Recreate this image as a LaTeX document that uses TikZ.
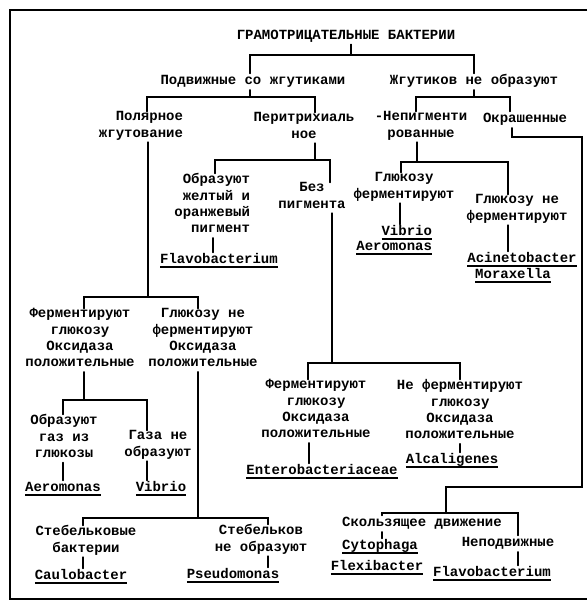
\documentclass[tikz,border=0pt]{standalone}
\usepackage{fontspec}
\setmainfont{Liberation Mono}
\newfontfamily\tw{Liberation Mono}
\begin{document}
\begin{tikzpicture}[x=1pt,y=-1pt,
  txt/.style={inner sep=0pt, outer sep=0pt, font=\tw\bfseries\fontsize{14}{16.4}\selectfont,
    align=center, anchor=north, execute at begin node=\strut, execute at end node=\strut},
  rtxt/.style={txt, align=right, anchor=north east},
  ln/.style={line width=1.4pt, line cap=round},
  ul/.style={line width=1.3pt},
  frame/.style={line width=2.4pt}]
\useasboundingbox (0,0) rectangle (587,601);
% frame
\draw[frame] (587,10) -- (10,10) -- (10,599) -- (587,599);

% ---------- nodes ----------
\node[txt] (title) at (346,28) {ГРАМОТРИЦАТЕЛЬНЫЕ БАКТЕРИИ};
\node[txt] (motile) at (253,73.5) {Подвижные со жгутиками};
\node[txt] (nonmotile) at (474,73.5) {Жгутиков не образуют};
\node[rtxt] (polar) at (183,111.5) {Полярное\\жгутование};
\node[txt] (perit) at (304,112.5) {Перитрихиаль\\ное};
\node[txt] (nonpig) at (421,111.5) {-Непигменти\\рованные};
\node[txt] (colored) at (525,111.5) {Окрашенные};
\node[rtxt] (yellow) at (250,173.5) {Образуют\\желтый и\\оранжевый\\пигмент};
\node[txt] (nopig) at (312,182.5) {Без\\пигмента};
\node[txt] (flavoA) at (219,252.5) {Flavobacterium};
\node[txt] (glufer) at (404,172.5) {Глюкозу\\ферментируют};
\node[txt] (glunofer) at (517,194.5) {Глюкозу не\\ферментируют};
\node[rtxt] (vibA) at (432,224.5) {Vibrio};
\node[rtxt] (aerA) at (432,239.5) {Aeromonas};
\node[txt] (aci) at (522,251.5) {Acinetobacter};
\node[txt] (mor) at (513,267.5) {Moraxella};
\node[txt] (fermA) at (80,308.5) {Ферментируют\\глюкозу\\Оксидаза\\положительные};
\node[txt] (nofermA) at (203,308.5) {Глюкозу не\\ферментируют\\Оксидаза\\положительные};
\node[txt] (gas) at (64,414.5) {Образуют\\газ из\\глюкозы};
\node[txt] (nogas) at (158,430.5) {Газа не\\образуют};
\node[txt] (aerB) at (63,480.5) {Aeromonas};
\node[txt] (vibB) at (161,480.5) {Vibrio};
\node[txt] (stalk) at (86,525.5) {Стебельковые\\бактерии};
\node[txt] (nostalk) at (261,524.5) {Стебельков\\не образуют};
\node[txt] (caulo) at (81,568.5) {Caulobacter};
\node[txt] (pseudo) at (233,567.5) {Pseudomonas};
\node[txt] (fermB) at (316,379.5) {Ферментируют\\глюкозу\\Оксидаза\\положительные};
\node[txt] (nofermB) at (460,379.5) {Не ферментируют\\глюкозу\\Оксидаза\\положительные};
\node[txt] (entero) at (322,463.5) {Enterobacteriaceae};
\node[txt] (alc) at (452,452.5) {Alcaligenes};
\node[txt] (glide) at (422,515.5) {Скользящее движение};
\node[txt] (cyto) at (380,538.5) {Cytophaga};
\node[txt] (flexi) at (377,559.5) {Flexibacter};
\node[txt] (immot) at (508,535.5) {Неподвижные};
\node[txt] (flavoB) at (492,565.5) {Flavobacterium};

% ---------- underlines ----------
\foreach \n in {flavoA,vibA,aerA,aci,mor,aerB,vibB,caulo,pseudo,entero,alc,cyto,flexi,flavoB}
  \draw[ul] ([yshift=-3pt]\n.base west) -- ([yshift=-3pt]\n.base east);

% ---------- connectors ----------
\coordinate (j0) at (351,55);  \coordinate (j0l) at (250,55);  \coordinate (j0r) at (474,55);
\draw[ln] (title.south -| j0) -- (j0);
\draw[ln] (motile.north -| j0l) |- (j0r) -- (nonmotile.north -| j0r);

\coordinate (j1) at (250,97);  \coordinate (j1l) at (147,97);  \coordinate (j1r) at (315,97);
\draw[ln] (motile.south -| j1) -- (j1);
\draw[ln] (polar.north -| j1l) |- (j1r) -- (perit.north -| j1r);

\coordinate (j2) at (474,97);  \coordinate (j2l) at (416,97);  \coordinate (j2r) at (510,97);
\draw[ln] (nonmotile.south -| j2) -- (j2);
\draw[ln] (nonpig.north -| j2l) |- (j2r) -- (colored.north -| j2r);

\coordinate (j3) at (315,160); \coordinate (j3l) at (215,160); \coordinate (j3r) at (330,160);
\draw[ln] (perit.south -| j3) -- (j3);
\draw[ln] (yellow.north -| j3l) |- (j3r) -- (nopig.north -| j3r);

\coordinate (j4) at (417,162); \coordinate (j4l) at (401,162); \coordinate (j4r) at (508,162);
\draw[ln] (nonpig.south -| j4) -- (j4);
\draw[ln] (glufer.north -| j4l) |- (j4r) -- (glunofer.north -| j4r);

\coordinate (k1) at (213,0); \draw[ln] (yellow.south -| k1) -- (flavoA.north -| k1);
\coordinate (k2) at (400,0); \draw[ln] (glufer.south -| k2) -- (vibA.north -| k2);
\coordinate (k3) at (508,0); \draw[ln] (glunofer.south -| k3) -- (aci.north -| k3);

\coordinate (j5) at (148,297); \coordinate (j5l) at (84,297); \coordinate (j5r) at (198,297);
\draw[ln] (polar.south -| j5) -- (j5);
\draw[ln] (fermA.north -| j5l) |- (j5r) -- (nofermA.north -| j5r);

\coordinate (j6) at (332,363); \coordinate (j6l) at (308,363); \coordinate (j6r) at (460,363);
\draw[ln] (nopig.south -| j6) -- (j6);
\draw[ln] (fermB.north -| j6l) |- (j6r) -- (nofermB.north -| j6r);

\coordinate (j7) at (84,400); \coordinate (j7l) at (63,400); \coordinate (j7r) at (147,400);
\draw[ln] (fermA.south -| j7) -- (j7);
\draw[ln] (gas.north -| j7l) |- (j7r) -- (nogas.north -| j7r);

\coordinate (j8) at (198,518); \coordinate (j8l) at (83,518); \coordinate (j8r) at (268,518);
\draw[ln] (nofermA.south -| j8) -- (j8);
\draw[ln] (stalk.north -| j8l) |- (j8r) -- (nostalk.north -| j8r);

\coordinate (k4) at (63,0);  \draw[ln] (gas.south -| k4) -- (aerB.north -| k4);
\coordinate (k5) at (147,0); \draw[ln] (nogas.south -| k5) -- (vibB.north -| k5);
\coordinate (k6) at (83,0);  \draw[ln] (stalk.south -| k6) -- (caulo.north -| k6);
\coordinate (k7) at (268,0); \draw[ln] (nostalk.south -| k7) -- (pseudo.north -| k7);
\coordinate (k8) at (309,0); \draw[ln] (fermB.south -| k8) -- (entero.north -| k8);
\coordinate (k9) at (460,0); \draw[ln] (nofermB.south -| k9) -- (alc.north -| k9);

\coordinate (c1) at (512,137); \coordinate (c2) at (582,137);
\coordinate (c3) at (582,487); \coordinate (c4) at (446,487);
\coordinate (j9) at (446,513); \coordinate (j9l) at (382,513); \coordinate (j9r) at (518,513);
\draw[ln] (colored.south -| c1) -- (c1) -- (c2) -- (c3) -- (c4) -- (j9);
\draw[ln] (glide.north -| j9l) |- (j9r) -- (immot.north -| j9r);
\coordinate (k10) at (382,0); \draw[ln] (glide.south -| k10) -- (cyto.north -| k10);
\coordinate (k11) at (518,0); \draw[ln] (immot.south -| k11) -- (flavoB.north -| k11);
\end{tikzpicture}
\end{document}
